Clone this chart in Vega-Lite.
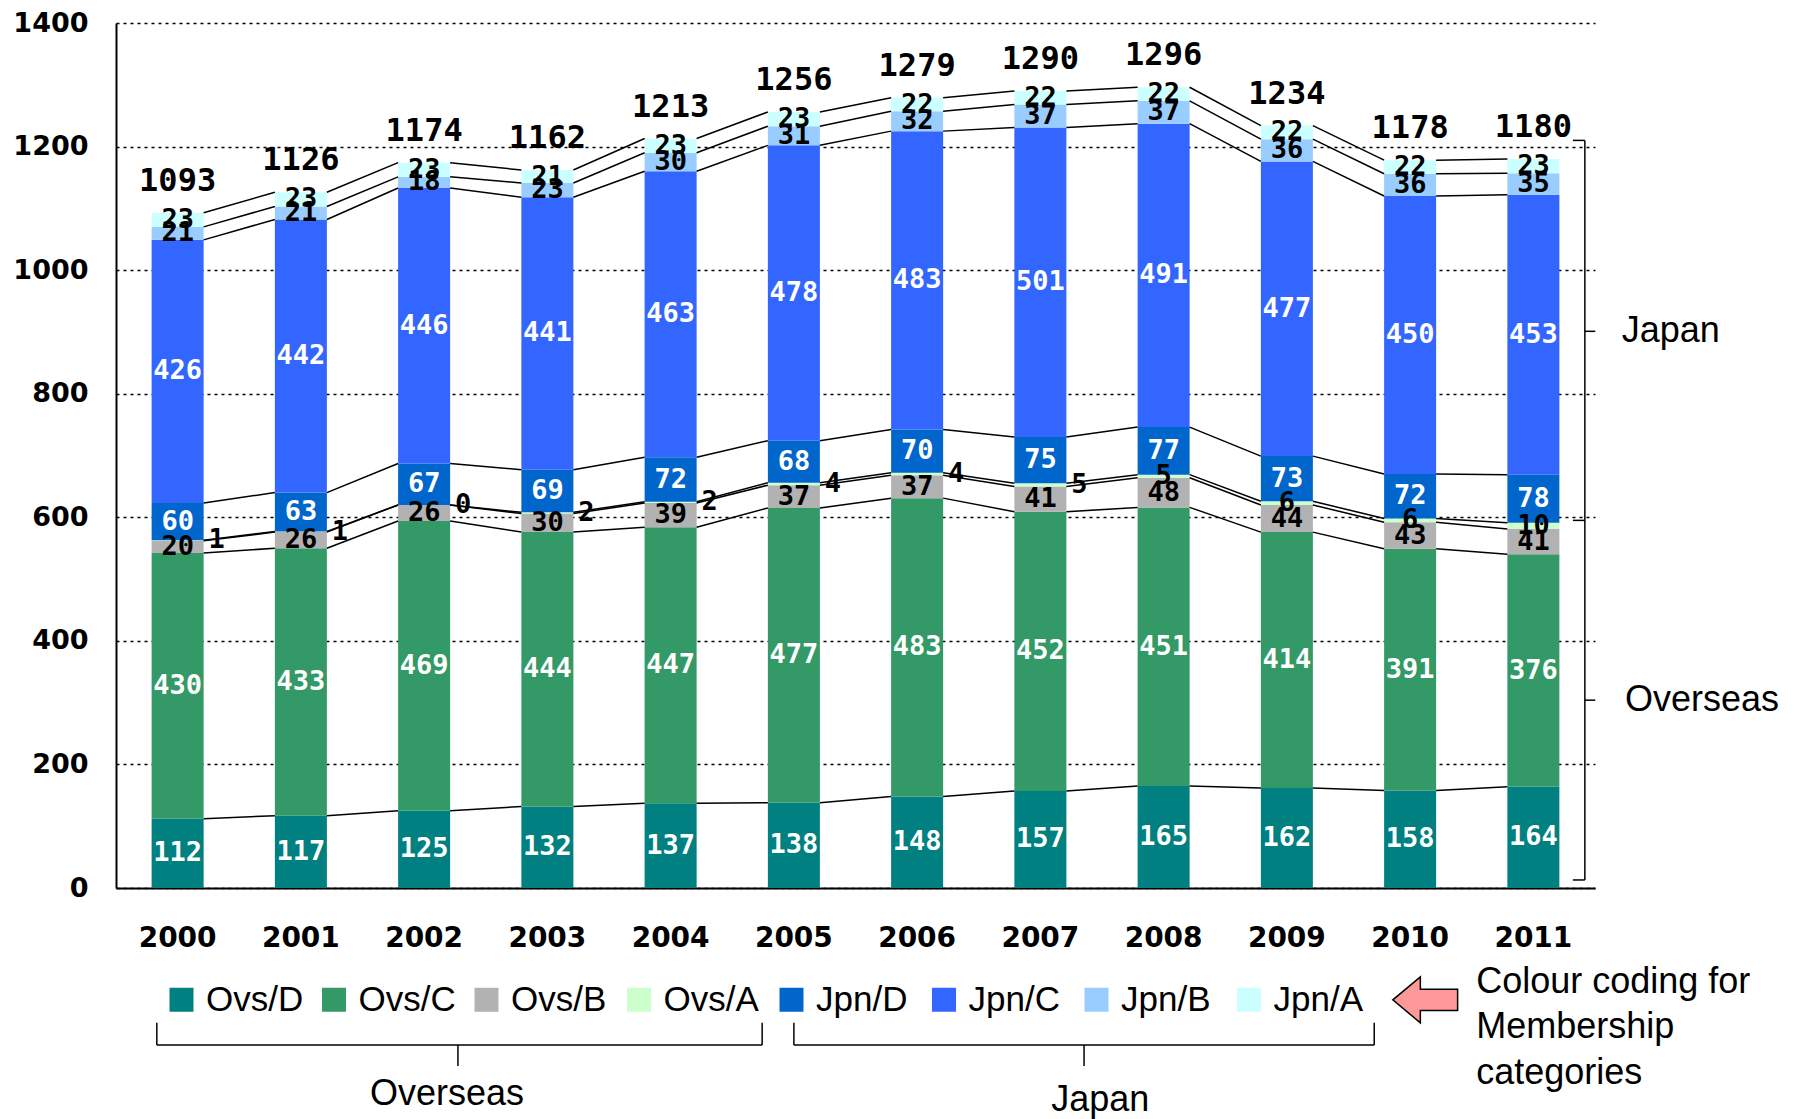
{
  "$schema": "https://vega.github.io/schema/vega-lite/v6.json",
  "width": 1479,
  "height": 865,
  "autosize": {"type": "none"},
  "padding": {"left": 116, "top": 23, "right": 202, "bottom": 231},
  "background": "white",
  "config": {"view": {"stroke": null}, "font": "Liberation Sans"},
  "layer": [
    {
      "data": {"values": [
        {"year":"2000","cat":"Ovs/D","value":112},{"year":"2000","cat":"Ovs/C","value":430},{"year":"2000","cat":"Ovs/B","value":20},{"year":"2000","cat":"Ovs/A","value":1},{"year":"2000","cat":"Jpn/D","value":60},{"year":"2000","cat":"Jpn/C","value":426},{"year":"2000","cat":"Jpn/B","value":21},{"year":"2000","cat":"Jpn/A","value":23},
        {"year":"2001","cat":"Ovs/D","value":117},{"year":"2001","cat":"Ovs/C","value":433},{"year":"2001","cat":"Ovs/B","value":26},{"year":"2001","cat":"Ovs/A","value":1},{"year":"2001","cat":"Jpn/D","value":63},{"year":"2001","cat":"Jpn/C","value":442},{"year":"2001","cat":"Jpn/B","value":21},{"year":"2001","cat":"Jpn/A","value":23},
        {"year":"2002","cat":"Ovs/D","value":125},{"year":"2002","cat":"Ovs/C","value":469},{"year":"2002","cat":"Ovs/B","value":26},{"year":"2002","cat":"Ovs/A","value":0},{"year":"2002","cat":"Jpn/D","value":67},{"year":"2002","cat":"Jpn/C","value":446},{"year":"2002","cat":"Jpn/B","value":18},{"year":"2002","cat":"Jpn/A","value":23},
        {"year":"2003","cat":"Ovs/D","value":132},{"year":"2003","cat":"Ovs/C","value":444},{"year":"2003","cat":"Ovs/B","value":30},{"year":"2003","cat":"Ovs/A","value":2},{"year":"2003","cat":"Jpn/D","value":69},{"year":"2003","cat":"Jpn/C","value":441},{"year":"2003","cat":"Jpn/B","value":23},{"year":"2003","cat":"Jpn/A","value":21},
        {"year":"2004","cat":"Ovs/D","value":137},{"year":"2004","cat":"Ovs/C","value":447},{"year":"2004","cat":"Ovs/B","value":39},{"year":"2004","cat":"Ovs/A","value":2},{"year":"2004","cat":"Jpn/D","value":72},{"year":"2004","cat":"Jpn/C","value":463},{"year":"2004","cat":"Jpn/B","value":30},{"year":"2004","cat":"Jpn/A","value":23},
        {"year":"2005","cat":"Ovs/D","value":138},{"year":"2005","cat":"Ovs/C","value":477},{"year":"2005","cat":"Ovs/B","value":37},{"year":"2005","cat":"Ovs/A","value":4},{"year":"2005","cat":"Jpn/D","value":68},{"year":"2005","cat":"Jpn/C","value":478},{"year":"2005","cat":"Jpn/B","value":31},{"year":"2005","cat":"Jpn/A","value":23},
        {"year":"2006","cat":"Ovs/D","value":148},{"year":"2006","cat":"Ovs/C","value":483},{"year":"2006","cat":"Ovs/B","value":37},{"year":"2006","cat":"Ovs/A","value":4},{"year":"2006","cat":"Jpn/D","value":70},{"year":"2006","cat":"Jpn/C","value":483},{"year":"2006","cat":"Jpn/B","value":32},{"year":"2006","cat":"Jpn/A","value":22},
        {"year":"2007","cat":"Ovs/D","value":157},{"year":"2007","cat":"Ovs/C","value":452},{"year":"2007","cat":"Ovs/B","value":41},{"year":"2007","cat":"Ovs/A","value":5},{"year":"2007","cat":"Jpn/D","value":75},{"year":"2007","cat":"Jpn/C","value":501},{"year":"2007","cat":"Jpn/B","value":37},{"year":"2007","cat":"Jpn/A","value":22},
        {"year":"2008","cat":"Ovs/D","value":165},{"year":"2008","cat":"Ovs/C","value":451},{"year":"2008","cat":"Ovs/B","value":48},{"year":"2008","cat":"Ovs/A","value":5},{"year":"2008","cat":"Jpn/D","value":77},{"year":"2008","cat":"Jpn/C","value":491},{"year":"2008","cat":"Jpn/B","value":37},{"year":"2008","cat":"Jpn/A","value":22},
        {"year":"2009","cat":"Ovs/D","value":162},{"year":"2009","cat":"Ovs/C","value":414},{"year":"2009","cat":"Ovs/B","value":44},{"year":"2009","cat":"Ovs/A","value":6},{"year":"2009","cat":"Jpn/D","value":73},{"year":"2009","cat":"Jpn/C","value":477},{"year":"2009","cat":"Jpn/B","value":36},{"year":"2009","cat":"Jpn/A","value":22},
        {"year":"2010","cat":"Ovs/D","value":158},{"year":"2010","cat":"Ovs/C","value":391},{"year":"2010","cat":"Ovs/B","value":43},{"year":"2010","cat":"Ovs/A","value":6},{"year":"2010","cat":"Jpn/D","value":72},{"year":"2010","cat":"Jpn/C","value":450},{"year":"2010","cat":"Jpn/B","value":36},{"year":"2010","cat":"Jpn/A","value":22},
        {"year":"2011","cat":"Ovs/D","value":164},{"year":"2011","cat":"Ovs/C","value":376},{"year":"2011","cat":"Ovs/B","value":41},{"year":"2011","cat":"Ovs/A","value":10},{"year":"2011","cat":"Jpn/D","value":78},{"year":"2011","cat":"Jpn/C","value":453},{"year":"2011","cat":"Jpn/B","value":35},{"year":"2011","cat":"Jpn/A","value":23}
      ]},
      "transform": [
        {"calculate": "indexof(['Ovs/D','Ovs/C','Ovs/B','Ovs/A','Jpn/D','Jpn/C','Jpn/B','Jpn/A'], datum.cat)", "as": "k"},
        {"window": [{"op": "sum", "field": "value", "as": "cum"}], "groupby": ["year"], "sort": [{"field": "k"}], "frame": [null, 0]},
        {"calculate": "datum.cum - datum.value", "as": "start"},
        {"calculate": "datum.cum - datum.value / 2", "as": "mid"}
      ],
      "layer": [
        {
          "mark": {"type": "bar"},
          "encoding": {
            "x": {"field": "year", "type": "nominal",
              "scale": {"paddingInner": 0.578, "paddingOuter": 0.289},
              "axis": {"title": null, "labelAngle": 0, "labelFont": "DejaVu Sans", "labelFontWeight": "bold", "labelFontSize": 28, "labelColor": "black", "labelPadding": 36, "ticks": false, "domainColor": "black", "domainWidth": 2, "grid": false}},
            "y": {"field": "start", "type": "quantitative",
              "scale": {"domain": [0, 1400], "nice": false},
              "axis": {"title": null, "format": "d", "values": [0, 200, 400, 600, 800, 1000, 1200, 1400], "labelFont": "DejaVu Sans", "labelFontWeight": "bold", "labelFontSize": 27, "labelColor": "black", "labelPadding": 28, "ticks": false, "domainColor": "black", "domainWidth": 2, "grid": true, "gridColor": "black", "gridDash": [3, 4], "gridWidth": 1.5, "gridOpacity": 1}},
            "y2": {"field": "cum"},
            "color": {"field": "cat", "type": "nominal",
              "scale": {"domain": ["Ovs/D", "Ovs/C", "Ovs/B", "Ovs/A", "Jpn/D", "Jpn/C", "Jpn/B", "Jpn/A"],
                        "range": ["#008080", "#339966", "#B2B2B2", "#CCFFCC", "#0066CC", "#3366FF", "#99CCFF", "#CCFFFF"]},
              "legend": {"title": null, "orient": "none", "legendX": 48, "legendY": 959, "direction": "horizontal", "columns": 8, "gridAlign": "all", "columnPadding": 12.5,
                         "symbolType": "square", "symbolSize": 576, "symbolStrokeWidth": 0,
                         "labelFont": "Liberation Sans", "labelFontSize": 35, "labelColor": "black", "labelOffset": 7, "padding": 0, "labelLimit": 300}}
          }
        },
        {
          "transform": [
            {"window": [{"op": "lead", "field": "cum", "as": "nextCum"}, {"op": "lead", "field": "year", "as": "nextYear"}], "groupby": ["cat"], "sort": [{"field": "year"}]},
            {"filter": "datum.nextYear != null"}
          ],
          "mark": {"type": "rule", "color": "black", "strokeWidth": 1.5},
          "encoding": {
            "x": {"field": "year", "type": "nominal", "bandPosition": 1},
            "x2": {"field": "nextYear", "bandPosition": 0},
            "y": {"field": "cum", "type": "quantitative"},
            "y2": {"field": "nextCum"}
          }
        },
        {
          "transform": [{"filter": "indexof(['Ovs/D','Ovs/C','Jpn/D','Jpn/C'], datum.cat) >= 0"}],
          "mark": {"type": "text", "color": "white", "font": "DejaVu Sans Mono", "fontWeight": "bold", "fontSize": 27, "baseline": "middle"},
          "encoding": {"x": {"field": "year", "type": "nominal"}, "y": {"field": "mid", "type": "quantitative"}, "text": {"field": "value", "type": "quantitative", "format": "d"}}
        },
        {
          "transform": [{"filter": "indexof(['Ovs/B','Jpn/B','Jpn/A'], datum.cat) >= 0"}],
          "mark": {"type": "text", "color": "black", "font": "DejaVu Sans Mono", "fontWeight": "bold", "fontSize": 27, "baseline": "middle"},
          "encoding": {"x": {"field": "year", "type": "nominal"}, "y": {"field": "mid", "type": "quantitative"}, "text": {"field": "value", "type": "quantitative", "format": "d"}}
        },
        {
          "transform": [{"filter": "datum.cat == 'Ovs/A' && datum.year <= '2007'"}],
          "mark": {"type": "text", "color": "black", "font": "DejaVu Sans Mono", "fontWeight": "bold", "fontSize": 27, "baseline": "middle", "dx": 13},
          "encoding": {"x": {"field": "year", "type": "nominal", "bandPosition": 1}, "y": {"field": "mid", "type": "quantitative"}, "text": {"field": "value", "type": "quantitative", "format": "d"}}
        },
        {
          "transform": [{"filter": "datum.cat == 'Ovs/A' && datum.year >= '2008'"}],
          "mark": {"type": "text", "color": "black", "font": "DejaVu Sans Mono", "fontWeight": "bold", "fontSize": 27, "baseline": "middle"},
          "encoding": {"x": {"field": "year", "type": "nominal"}, "y": {"field": "mid", "type": "quantitative"}, "text": {"field": "value", "type": "quantitative", "format": "d"}}
        },
        {
          "transform": [{"filter": "datum.cat == 'Jpn/A'"}],
          "mark": {"type": "text", "color": "black", "font": "DejaVu Sans Mono", "fontWeight": "bold", "fontSize": 32, "baseline": "middle", "dy": -32},
          "encoding": {"x": {"field": "year", "type": "nominal"}, "y": {"field": "cum", "type": "quantitative"}, "text": {"field": "cum", "type": "quantitative", "format": "d"}}
        }
      ]
    },
    {"data": {"values": [{}]}, "mark": {"type": "rule", "color": "black", "strokeWidth": 1.5},
     "encoding": {"x": {"datum": "2011", "type": "nominal", "bandPosition": 1.49}, "y": {"datum": 1210, "type": "quantitative"}, "y2": {"datum": 13}}},
    {"data": {"values": [{}]}, "mark": {"type": "rule", "color": "black", "strokeWidth": 1.5},
     "encoding": {"x": {"datum": "2011", "type": "nominal", "bandPosition": 1.26}, "x2": {"datum": "2011", "bandPosition": 1.49}, "y": {"datum": 1210, "type": "quantitative"}}},
    {"data": {"values": [{}]}, "mark": {"type": "rule", "color": "black", "strokeWidth": 1.5},
     "encoding": {"x": {"datum": "2011", "type": "nominal", "bandPosition": 1.26}, "x2": {"datum": "2011", "bandPosition": 1.49}, "y": {"datum": 595, "type": "quantitative"}}},
    {"data": {"values": [{}]}, "mark": {"type": "rule", "color": "black", "strokeWidth": 1.5},
     "encoding": {"x": {"datum": "2011", "type": "nominal", "bandPosition": 1.26}, "x2": {"datum": "2011", "bandPosition": 1.49}, "y": {"datum": 13, "type": "quantitative"}}},
    {"data": {"values": [{}]}, "mark": {"type": "rule", "color": "black", "strokeWidth": 1.5},
     "encoding": {"x": {"datum": "2011", "type": "nominal", "bandPosition": 1.49}, "x2": {"datum": "2011", "bandPosition": 1.69}, "y": {"datum": 901, "type": "quantitative"}}},
    {"data": {"values": [{}]}, "mark": {"type": "rule", "color": "black", "strokeWidth": 1.5},
     "encoding": {"x": {"datum": "2011", "type": "nominal", "bandPosition": 1.49}, "x2": {"datum": "2011", "bandPosition": 1.69}, "y": {"datum": 304, "type": "quantitative"}}},
    {"data": {"values": [{}]}, "mark": {"type": "text", "text": "Japan", "align": "left", "baseline": "middle", "font": "Liberation Sans", "fontSize": 36, "color": "black"},
     "encoding": {"x": {"datum": "2011", "type": "nominal", "bandPosition": 2.2}, "y": {"datum": 901, "type": "quantitative"}}},
    {"data": {"values": [{}]}, "mark": {"type": "text", "text": "Overseas", "align": "left", "baseline": "middle", "font": "Liberation Sans", "fontSize": 36, "color": "black"},
     "encoding": {"x": {"datum": "2011", "type": "nominal", "bandPosition": 2.26}, "y": {"datum": 304, "type": "quantitative"}}},
    {"data": {"values": [{}]}, "mark": {"type": "rule", "color": "black", "strokeWidth": 1.5},
     "encoding": {"x": {"datum": "2000", "type": "nominal", "bandPosition": 0.1}, "y": {"datum": -218, "type": "quantitative"}, "y2": {"datum": -254}}},
    {"data": {"values": [{}]}, "mark": {"type": "rule", "color": "black", "strokeWidth": 1.5},
     "encoding": {"x": {"datum": "2005", "type": "nominal", "bandPosition": -0.11}, "y": {"datum": -218, "type": "quantitative"}, "y2": {"datum": -254}}},
    {"data": {"values": [{}]}, "mark": {"type": "rule", "color": "black", "strokeWidth": 1.5},
     "encoding": {"x": {"datum": "2000", "type": "nominal", "bandPosition": 0.1}, "x2": {"datum": "2005", "bandPosition": -0.11}, "y": {"datum": -254, "type": "quantitative"}}},
    {"data": {"values": [{}]}, "mark": {"type": "rule", "color": "black", "strokeWidth": 1.5},
     "encoding": {"x": {"datum": "2002", "type": "nominal", "bandPosition": 1.15}, "y": {"datum": -254, "type": "quantitative"}, "y2": {"datum": -288}}},
    {"data": {"values": [{}]}, "mark": {"type": "text", "text": "Overseas", "align": "center", "baseline": "middle", "font": "Liberation Sans", "fontSize": 36, "color": "black"},
     "encoding": {"x": {"datum": "2002", "type": "nominal", "bandPosition": 0.94}, "y": {"datum": -333, "type": "quantitative"}}},
    {"data": {"values": [{}]}, "mark": {"type": "rule", "color": "black", "strokeWidth": 1.5},
     "encoding": {"x": {"datum": "2005", "type": "nominal", "bandPosition": 0.5}, "y": {"datum": -218, "type": "quantitative"}, "y2": {"datum": -254}}},
    {"data": {"values": [{}]}, "mark": {"type": "rule", "color": "black", "strokeWidth": 1.5},
     "encoding": {"x": {"datum": "2010", "type": "nominal", "bandPosition": -0.19}, "y": {"datum": -218, "type": "quantitative"}, "y2": {"datum": -254}}},
    {"data": {"values": [{}]}, "mark": {"type": "rule", "color": "black", "strokeWidth": 1.5},
     "encoding": {"x": {"datum": "2005", "type": "nominal", "bandPosition": 0.5}, "x2": {"datum": "2010", "bandPosition": -0.19}, "y": {"datum": -254, "type": "quantitative"}}},
    {"data": {"values": [{}]}, "mark": {"type": "rule", "color": "black", "strokeWidth": 1.5},
     "encoding": {"x": {"datum": "2007", "type": "nominal", "bandPosition": 1.34}, "y": {"datum": -254, "type": "quantitative"}, "y2": {"datum": -288}}},
    {"data": {"values": [{}]}, "mark": {"type": "text", "text": "Japan", "align": "center", "baseline": "middle", "font": "Liberation Sans", "fontSize": 36, "color": "black"},
     "encoding": {"x": {"datum": "2007", "type": "nominal", "bandPosition": 1.65}, "y": {"datum": -343, "type": "quantitative"}}},
    {"data": {"values": [{}]}, "mark": {"type": "point", "filled": true, "shape": "M -1 0 L -0.15 -0.71 L -0.15 -0.33 L 1 -0.33 L 1 0.33 L -0.15 0.33 L -0.15 0.71 Z", "size": 4200, "fill": "#FF9999", "stroke": "black", "strokeWidth": 1.5, "opacity": 1, "fillOpacity": 1},
     "encoding": {"x": {"datum": "2010", "type": "nominal", "bandPosition": 0.79}, "y": {"datum": -181, "type": "quantitative"}}},
    {"data": {"values": [{}]}, "mark": {"type": "text", "text": ["Colour coding for", "Membership", "categories"], "lineHeight": 45.5, "align": "left", "baseline": "middle", "font": "Liberation Sans", "fontSize": 36, "color": "black"},
     "encoding": {"x": {"datum": "2011", "type": "nominal", "bandPosition": -0.6}, "y": {"datum": -152, "type": "quantitative"}}}
  ]
}
